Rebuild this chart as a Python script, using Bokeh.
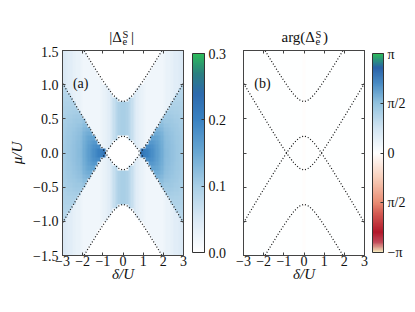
import numpy as np
from bokeh.plotting import figure
from bokeh.models import (LinearColorMapper, ColorBar, FixedTicker, LinearAxis, Label,
                          CustomLabelingPolicy, Div, Spacer)
from bokeh.layouts import row, column
from bokeh.embed import file_html
from bokeh.resources import INLINE

FONT = "Liberation Serif"

# ---------------- data ----------------
delta_ticks = [-3, -2, -1, 0, 1, 2, 3]
delta_tick_labels = ["−3", "−2", "−1", "0", "1", "2", "3"]
mu_ticks = [-1.5, -1.0, -0.5, 0.0, 0.5, 1.0, 1.5]
mu_tick_labels = ["−1.5", "−1.0", "−0.5", "0.0", "0.5", "1.0", "1.5"]
abs_ticks = [0.0, 0.1, 0.2, 0.3]
abs_tick_labels = ["0.0", "0.1", "0.2", "0.3"]
arg_ticks = [-np.pi, -np.pi / 2, 0.0, np.pi / 2, np.pi]
arg_tick_labels = ["−π", "π/2", "0", "π/2", "π"]

# dotted boundary curves (mu/U read at delta/U steps of 0.25)
curve_delta = [-3.0, -2.75, -2.5, -2.25, -2.0, -1.75, -1.5, -1.25, -1.0, -0.75, -0.5, -0.25, 0.0,
               0.25, 0.5, 0.75, 1.0, 1.25, 1.5, 1.75, 2.0, 2.25, 2.5, 2.75, 3.0]
curve_outer_upper = [2.021, 1.898, 1.775, 1.652, 1.531, 1.410, 1.291, 1.173, 1.059, 0.951, 0.854, 0.780, 0.750,
                     0.780, 0.854, 0.951, 1.059, 1.173, 1.291, 1.410, 1.531, 1.652, 1.775, 1.898, 2.021]
curve_inner_upper = [-1.021, -0.898, -0.775, -0.652, -0.531, -0.410, -0.291, -0.173, -0.059, 0.049, 0.146, 0.220, 0.250,
                     0.220, 0.146, 0.049, -0.059, -0.173, -0.291, -0.410, -0.531, -0.652, -0.775, -0.898, -1.021]
curve_inner_lower = [1.021, 0.898, 0.775, 0.652, 0.531, 0.410, 0.291, 0.173, 0.059, -0.049, -0.146, -0.220, -0.250,
                     -0.220, -0.146, -0.049, 0.059, 0.173, 0.291, 0.410, 0.531, 0.652, 0.775, 0.898, 1.021]
curve_outer_lower = [-2.021, -1.898, -1.775, -1.652, -1.531, -1.410, -1.291, -1.173, -1.059, -0.951, -0.854, -0.780, -0.750,
                     -0.780, -0.854, -0.951, -1.059, -1.173, -1.291, -1.410, -1.531, -1.652, -1.775, -1.898, -2.021]

# |Delta_e^S| in units of 0.01, quadrant delta in [-3, 0] (24 cols), mu in [0, 1.5] (24 rows, top row first)
abs_quadrant_pct = [
    [5, 4.5, 4, 4, 3.5, 3, 3, 2.5, 2, 0, 0, 0, 0, 0, 0, 0, 0, 0, 0, 0, 0, 0, 0, 0],
    [5, 4.5, 4, 4, 3.5, 3, 3, 2.5, 2, 2, 0, 0, 0, 0, 0, 0, 0, 0, 0, 0, 0, 0, 0, 0],
    [5, 4.5, 4, 4, 3.5, 3, 3, 2.5, 2, 2, 2, 0, 0, 0, 0, 0, 0, 0, 0, 0, 0, 0, 0, 0],
    [5, 4.5, 4, 4, 3.5, 3, 3, 2.5, 2, 2, 2, 2, 0, 0, 0, 0, 0, 0, 0, 0, 0, 0, 0, 0],
    [5, 4.5, 4, 4, 3.5, 3, 3, 2.5, 2, 2, 2, 2, 2, 0, 0, 0, 0, 0, 0, 0, 0, 0, 0, 0],
    [5, 4.5, 4, 4, 3.5, 3, 3, 2.5, 2, 2, 2, 2, 2, 2, 0, 0, 0, 0, 0, 0, 0, 0, 0, 0],
    [5, 4.5, 4, 4, 3.5, 3, 3, 2.5, 2, 2, 2, 2, 2, 2, 2, 0, 0, 0, 0, 0, 0, 0, 0, 0],
    [5, 4.5, 4, 4, 3.5, 3, 3, 2.5, 2, 2, 2, 2, 2, 2, 2, 2.5, 0, 0, 0, 0, 0, 0, 0, 0],
    [8.3, 4.5, 4, 4, 3.5, 3, 3, 2.5, 2, 2, 2, 2, 2, 2, 2, 2.5, 3, 3.5, 0, 0, 0, 0, 0, 0],
    [8.6, 8.5, 4, 4, 3.5, 3, 3, 2.5, 2, 2, 2, 2, 2, 2, 2, 2.5, 3, 3.5, 4, 0, 0, 0, 0, 0],
    [8.8, 8.8, 8.8, 4, 3.5, 3, 3, 2.5, 2, 2, 2, 2, 2, 2, 2, 2.5, 3, 3.5, 4, 5.5, 0, 0, 0, 0],
    [9.1, 9.1, 9.1, 9.0, 3.5, 3, 3, 2.5, 2, 2, 2, 2, 2, 2, 2, 2.5, 3, 3.5, 4, 5.5, 7, 8.5, 0, 0],
    [9.3, 9.4, 9.4, 9.4, 9.4, 3, 3, 2.5, 2, 2, 2, 2, 2, 2, 2, 2.5, 3, 3.5, 4, 5.5, 7, 8.5, 9.5, 10],
    [9.5, 9.6, 9.7, 9.7, 9.8, 9.7, 3, 2.5, 2, 2, 2, 2, 2, 2, 2, 2.5, 3, 3.5, 4, 5.5, 7, 8.5, 9.5, 10],
    [9.6, 9.8, 10.0, 10.0, 10.1, 10.2, 10.1, 2.5, 2, 2, 2, 2, 2, 2, 2, 2.5, 3, 3.5, 4, 5.5, 7, 8.5, 9.5, 10],
    [9.8, 10.0, 10.2, 10.3, 10.5, 10.6, 10.6, 10.5, 2, 2, 2, 2, 2, 2, 2, 2.5, 3, 3.5, 4, 5.5, 7, 8.5, 9.5, 10],
    [10.0, 10.2, 10.4, 10.5, 10.8, 10.9, 11.0, 11.1, 11.7, 2, 2, 2, 2, 2, 2, 2.5, 3, 3.5, 4, 5.5, 7, 8.5, 9.5, 10],
    [10.2, 10.3, 10.6, 10.8, 11.0, 11.2, 11.4, 11.6, 12.4, 12.6, 2, 2, 2, 2, 2, 2.5, 3, 3.5, 4, 5.5, 7, 8.5, 9.5, 10],
    [10.2, 10.5, 10.7, 10.9, 11.2, 11.5, 11.8, 12.0, 13.0, 13.4, 13.5, 2, 2, 2, 2, 2.5, 3, 3.5, 4, 5.5, 7, 8.5, 9.5, 10],
    [10.3, 10.6, 10.8, 11.1, 11.4, 11.7, 12.0, 12.4, 13.5, 14.1, 14.5, 14.5, 2, 2, 2, 2.5, 3, 3.5, 4, 5.5, 7, 8.5, 9.5, 10],
    [10.4, 10.7, 10.9, 11.2, 11.6, 11.9, 12.3, 12.7, 13.9, 14.7, 15.3, 15.7, 15.6, 2, 2, 2.5, 3, 3.5, 4, 5.5, 7, 8.5, 0, 0],
    [10.4, 10.7, 11.0, 11.3, 11.7, 12.1, 12.4, 12.9, 14.2, 15.1, 15.9, 16.6, 17.0, 16.9, 2, 2.5, 3, 3.5, 4, 5.5, 0, 0, 0, 0],
    [10.5, 10.8, 11.1, 11.4, 11.8, 12.2, 12.5, 13.0, 14.4, 15.3, 16.3, 17.2, 18.0, 18.6, 18.6, 2.5, 3, 3.5, 4, 0, 0, 0, 0, 0],
    [10.5, 10.8, 11.1, 11.4, 11.8, 12.2, 12.6, 13.1, 14.5, 15.5, 16.5, 17.5, 18.4, 19.4, 20.3, 20.9, 22.0, 3.5, 0, 0, 0, 0, 0, 0],
]

# arg(Delta_e^S): uniform in mu, 31 columns across delta in [-3, 3]
arg_row = [0, 0, 0, 0, 0, 0, 0, 0, 0, 0, 0, 0, 0, 0, 0, -0.04,
           0, 0, 0, 0, 0, 0, 0, 0, 0, 0, 0, 0, 0, 0, 0]

# ---------------- build images ----------------
q = np.array(abs_quadrant_pct, dtype=float)[::-1] / 100.0   # row 0 -> smallest mu
upper = np.hstack([q, q[:, ::-1]])
abs_image = np.vstack([upper[::-1], upper])
arg_image = np.array([arg_row], dtype=float)


def make_palette(anchors, n=256):
    fr = np.array([a[0] for a in anchors])
    cols = np.array([[int(a[1][i:i + 2], 16) for i in (1, 3, 5)] for a in anchors], dtype=float)
    out = []
    for tt in np.linspace(0, 1, n):
        rgb = [np.interp(tt, fr, cols[:, k]) for k in range(3)]
        out.append("#%02x%02x%02x" % tuple(int(round(c)) for c in rgb))
    return out


abs_palette = make_palette([
    (0.0, "#ffffff"), (0.167, "#dae9f5"), (0.333, "#a9cfe6"), (0.5, "#6aa8d3"),
    (0.667, "#3a82c2"), (0.8, "#2d6aad"), (0.9, "#2b7f80"), (1.0, "#2cbb5b")])
arg_palette = make_palette([
    (0.0, "#f5e9bd"), (0.05, "#c24a5a"), (0.1, "#b2182b"), (0.2, "#d65f55"),
    (0.25, "#e98c73"), (0.375, "#f8cfbb"), (0.5, "#ffffff"), (0.625, "#d2e5f2"),
    (0.75, "#93c3df"), (0.85, "#4a8cc4"), (0.93, "#2a62a8"), (1.0, "#2cbb5b")])

abs_mapper = LinearColorMapper(palette=abs_palette, low=0.0, high=0.3)
arg_mapper = LinearColorMapper(palette=arg_palette, low=-np.pi, high=np.pi)

AX = "#444444"
TXT = "#111111"


def style_axis(ax, ticks, labels=None, standoff=0):
    ax.ticker = FixedTicker(ticks=ticks)
    ax.major_tick_in = 3
    ax.major_tick_out = 0
    ax.minor_tick_line_color = None
    ax.axis_line_color = AX
    ax.major_tick_line_color = AX
    ax.major_label_text_font = FONT
    ax.major_label_text_color = TXT
    if labels is None:
        ax.major_label_text_font_size = "1px"
        ax.major_label_standoff = standoff
        ax.major_label_policy = CustomLabelingPolicy(code="return []")
    else:
        ax.major_label_text_font_size = "14px"
        ax.major_label_overrides = dict(zip(ticks, labels))
    ax.axis_label_text_font = FONT
    ax.axis_label_text_font_style = "italic"
    ax.axis_label_text_font_size = "15px"
    ax.axis_label_text_color = TXT


def make_panel(image, mapper, ticks_cb, labels_cb, left_labels, bl, br, cb_width, spacer):
    p = figure(frame_width=121, frame_height=205, x_range=(-3, 3), y_range=(-1.5, 1.5),
               output_backend="svg", toolbar_location=None,
               min_border_left=bl, min_border_right=br, min_border_top=0, min_border_bottom=55)
    p.grid.visible = False
    p.outline_line_color = AX
    p.background_fill_color = "white"
    p.image(image=[image], x=-3, y=-1.5, dw=6, dh=3, color_mapper=mapper)
    for ys in (curve_outer_upper, curve_inner_upper, curve_inner_lower, curve_outer_lower):
        p.line(curve_delta, ys, line_color=TXT, line_width=1.2, line_dash="1 2")
    style_axis(p.xaxis[0], delta_ticks, delta_tick_labels)
    p.xaxis[0].major_label_standoff = 0
    p.xaxis[0].axis_label = "δ/U"
    p.xaxis[0].axis_label_standoff = -3
    if left_labels:
        style_axis(p.yaxis[0], mu_ticks, mu_tick_labels)
        p.yaxis[0].major_label_standoff = 4
        p.yaxis[0].axis_label = "μ/U"
        p.yaxis[0].axis_label_standoff = 5
    else:
        style_axis(p.yaxis[0], mu_ticks, None)
    top = LinearAxis()
    style_axis(top, delta_ticks, None)
    p.add_layout(top, "above")
    right = LinearAxis()
    style_axis(right, mu_ticks, None, standoff=spacer)
    p.add_layout(right, "right")

    cb = ColorBar(color_mapper=mapper, ticker=FixedTicker(ticks=ticks_cb),
                  major_label_overrides=dict(zip(ticks_cb, labels_cb)),
                  width=cb_width, height=199, padding=3, margin=0,
                  bar_line_color="#333333", border_line_color=None,
                  background_fill_alpha=0,
                  major_tick_in=3, major_tick_out=0, major_tick_line_color="#333333",
                  minor_tick_line_color=None, label_standoff=4,
                  major_label_text_font=FONT, major_label_text_font_size="14px",
                  major_label_text_color=TXT)
    p.add_layout(cb, "right")
    return p


pa = make_panel(abs_image, abs_mapper, abs_ticks, abs_tick_labels, True, 62, 49, 12, 1)
pb = make_panel(arg_image, arg_mapper, arg_ticks, arg_tick_labels, False, 11, 42, 11, 0)

# panel tags
pa.add_layout(Label(x=-2.1, y=1.02, text="(a)", text_align="center", text_baseline="middle",
                    text_font=FONT, text_font_size="14px", text_color=TXT))
pb.add_layout(Label(x=-2.06, y=1.02, text="(b)", text_align="center", text_baseline="middle",
                    text_font=FONT, text_font_size="14px", text_color=TXT))


# titles as HTML text above each frame (|Delta_e^S| and arg(Delta_e^S))
def title_div(parts):
    spans = []
    for text, x, top, size, lh, align in parts:
        pos = f"right:{121 - x}px" if align == "right" else f"left:{x}px"
        spans.append(f'<span style="position:absolute;{pos};top:{top}px;font-size:{size}px;'
                     f'line-height:{lh}px;white-space:nowrap;">{text}</span>')
    html = (f'<div style="position:relative;width:121px;height:46px;font-family:\'{FONT}\';'
            f'color:{TXT};">' + "".join(spans) + "</div>")
    return Div(text=html, width=121, height=46, margin=0)


# superscript S stacked over subscript e in one text element
title_a = title_div([("|Δ", 60, 30.4, 15, 15, "right"), ("S<br>e", 60.5, 32.0, 10.5, 6.5, "left"),
                     ("|", 69, 30.4, 15, 15, "left")])
title_b = title_div([("arg(Δ", 72, 30.4, 15, 15, "right"), ("S<br>e", 72.5, 32.0, 10.5, 6.5, "left"),
                     (")", 80, 30.4, 15, 15, "left")])

top_row = row(Spacer(width=62, height=46), title_a, Spacer(width=60, height=46), title_b)
layout = column(top_row, row(pa, pb))
open("out.html", "w").write(file_html(layout, INLINE))
